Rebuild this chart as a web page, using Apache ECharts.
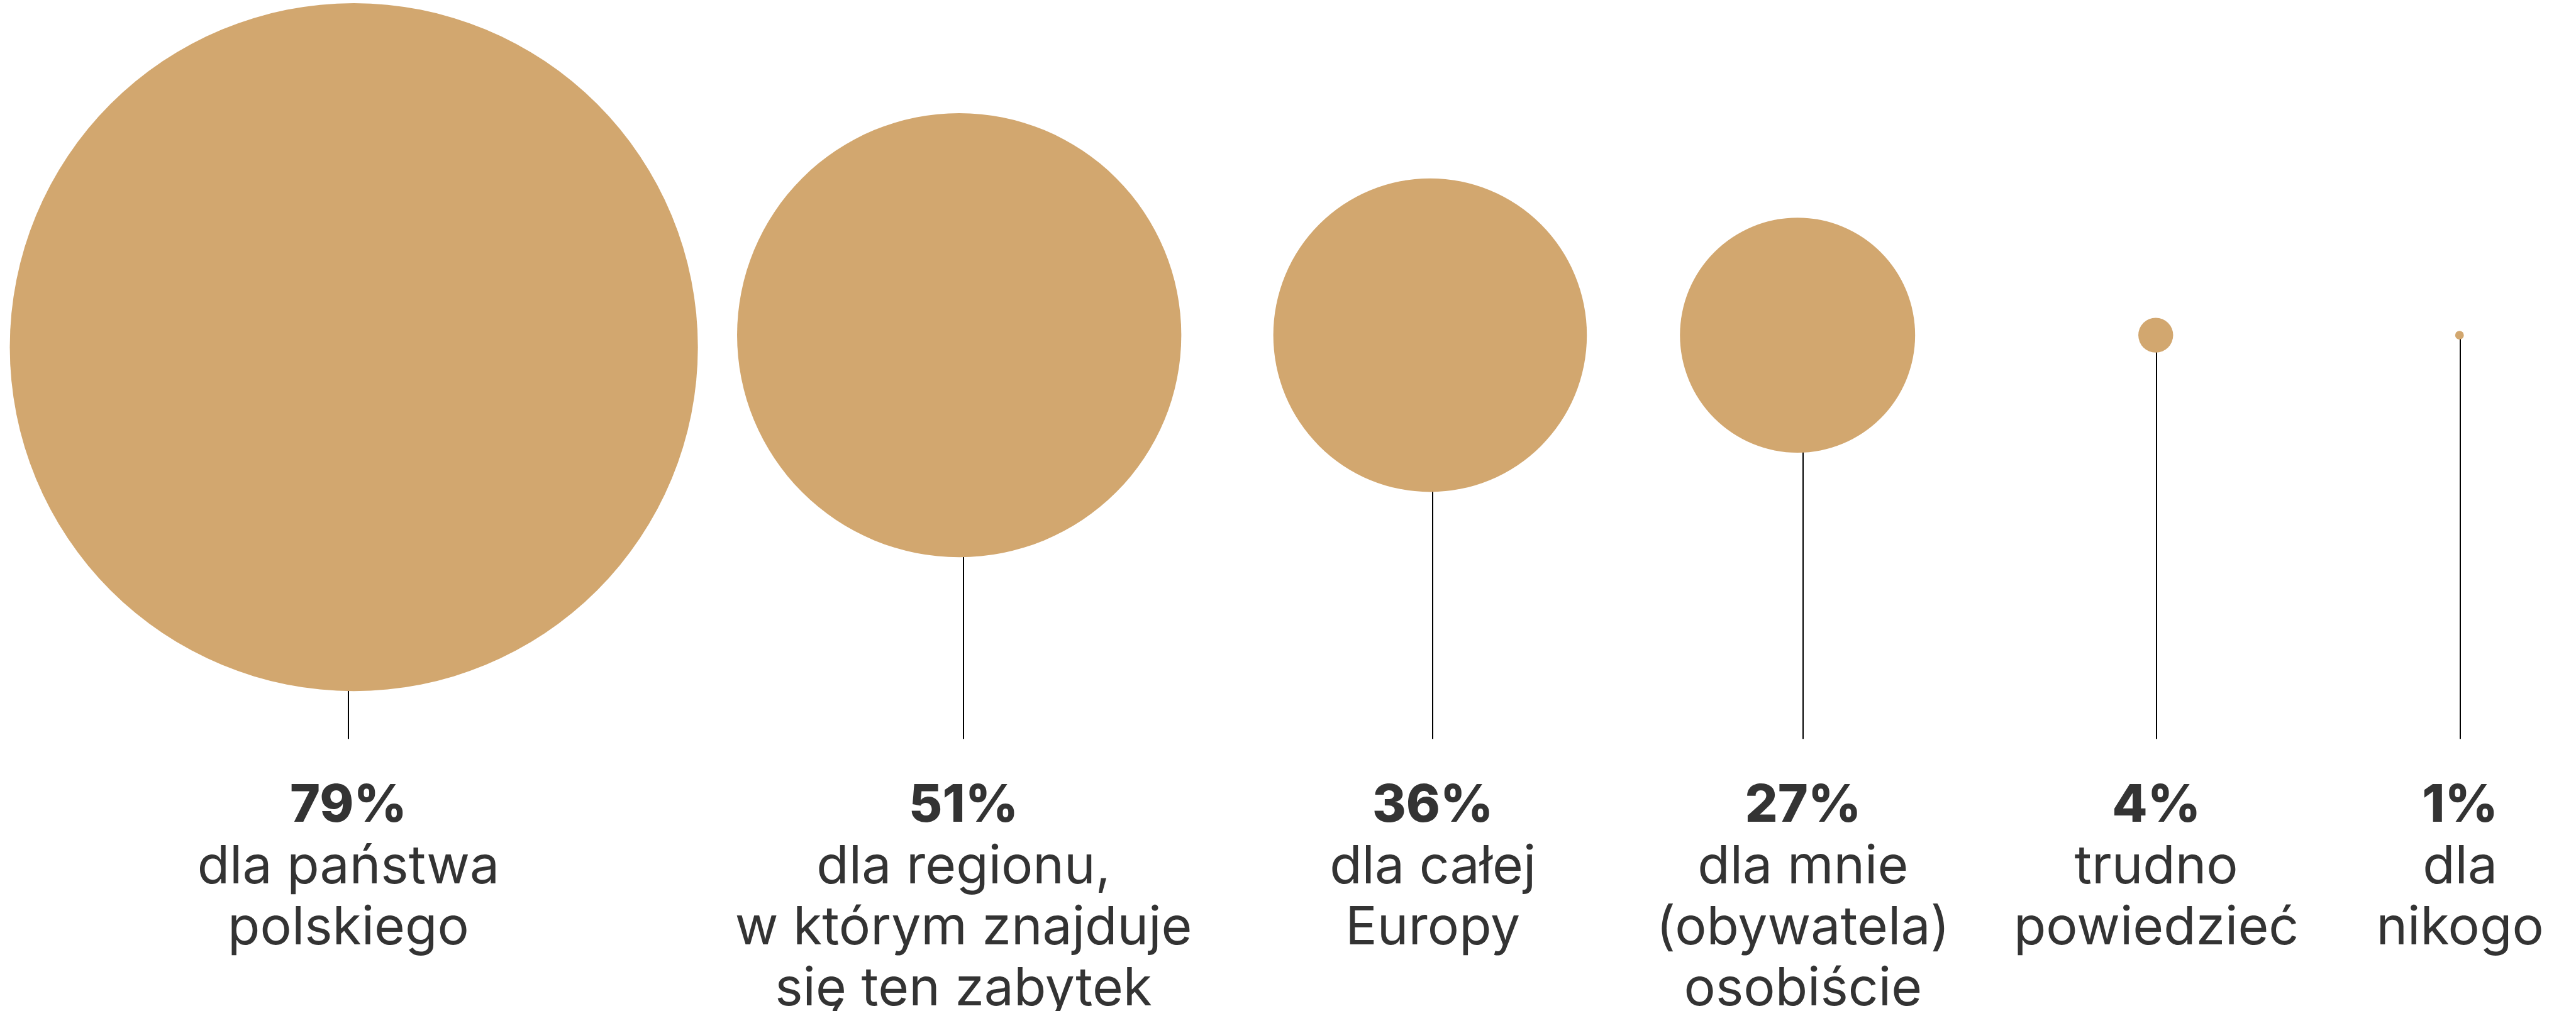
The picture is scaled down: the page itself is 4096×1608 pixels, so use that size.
<!DOCTYPE html>
<html>
<head>
<meta charset="utf-8">
<script src="https://cdn.jsdelivr.net/npm/echarts@6/dist/echarts.min.js"></script>
<style>
  html, body { margin: 0; padding: 0; background: #fff; }
  #chart { width: 4096px; height: 1608px; }
</style>
</head>
<body>
<div id="chart"></div>
<script>
// values (percent of answers)
const shares = [79, 51, 36, 27, 4, 1];
const descriptions = [
  ["dla państwa", "polskiego"],
  ["dla regionu,", "w którym znajduje", "się ten zabytek"],
  ["dla całej", "Europy"],
  ["dla mnie", "(obywatela)", "osobiście"],
  ["trudno", "powiedzieć"],
  ["dla", "nikogo"],
];

// layout, in reference pixels (4732 x 1858)
const REF_W = 4732;
const REF_H = 1858;
const stemX = [640, 1770, 2632, 3312, 3961, 4519];
const bubbleX = [650, 1762, 2627, 3302, 3960, 4518];
const bubbleY = [638, 616, 616, 616, 616, 616];
const stemBottom = 1358;
const labelTop = 1425;
const RADIUS_PER_PCT = 8;

const chartDom = document.getElementById("chart");
const chart = echarts.init(chartDom);
const s = chart.getWidth() / REF_W;

const font = "Inter, 'Noto Sans', sans-serif";

const option = {
  animation: false,
  backgroundColor: "#ffffff",
  grid: { left: 0, right: 0, top: 0, bottom: 0 },
  xAxis: { type: "value", min: 0, max: REF_W, show: false },
  yAxis: { type: "value", min: 0, max: REF_H, inverse: true, show: false },
  series: [
    {
      // stems
      type: "lines",
      coordinateSystem: "cartesian2d",
      z: 1,
      silent: true,
      lineStyle: { color: "#000", width: 2, opacity: 1 },
      data: shares.map((v, i) => ({
        coords: [
          [stemX[i], bubbleY[i]],
          [stemX[i], stemBottom],
        ],
      })),
    },
    {
      // bubbles, radius proportional to share
      type: "scatter",
      z: 2,
      silent: true,
      symbol: "circle",
      symbolSize: (val) => val[2] * RADIUS_PER_PCT * 2 * s,
      itemStyle: { color: "#D2A76F", opacity: 1 },
      data: shares.map((v, i) => [bubbleX[i], bubbleY[i], v]),
    },
    {
      // labels
      type: "scatter",
      z: 3,
      silent: true,
      symbolSize: 1,
      itemStyle: { color: "rgba(0,0,0,0)" },
      data: shares.map((v, i) => [stemX[i], labelTop, v]),
      label: {
        show: true,
        position: "bottom",
        distance: 0,
        align: "center",
        color: "#000",
        textBorderWidth: 0,
        formatter: (p) => {
          const i = p.dataIndex;
          const lines = ["{p|" + shares[i] + "%}"];
          descriptions[i].forEach((t) => lines.push("{t|" + t + "}"));
          return lines.join("\n");
        },
        rich: {
          p: {
            fontFamily: font,
            fontSize: 82,
            fontWeight: 800,
            color: "#000",
            lineHeight: 97,
            align: "center",
          },
          t: {
            fontFamily: font,
            fontSize: 84,
            fontWeight: 400,
            color: "#000",
            lineHeight: 97,
            align: "center",
          },
        },
      },
    },
  ],
};

chart.setOption(option);
</script>
</body>
</html>
